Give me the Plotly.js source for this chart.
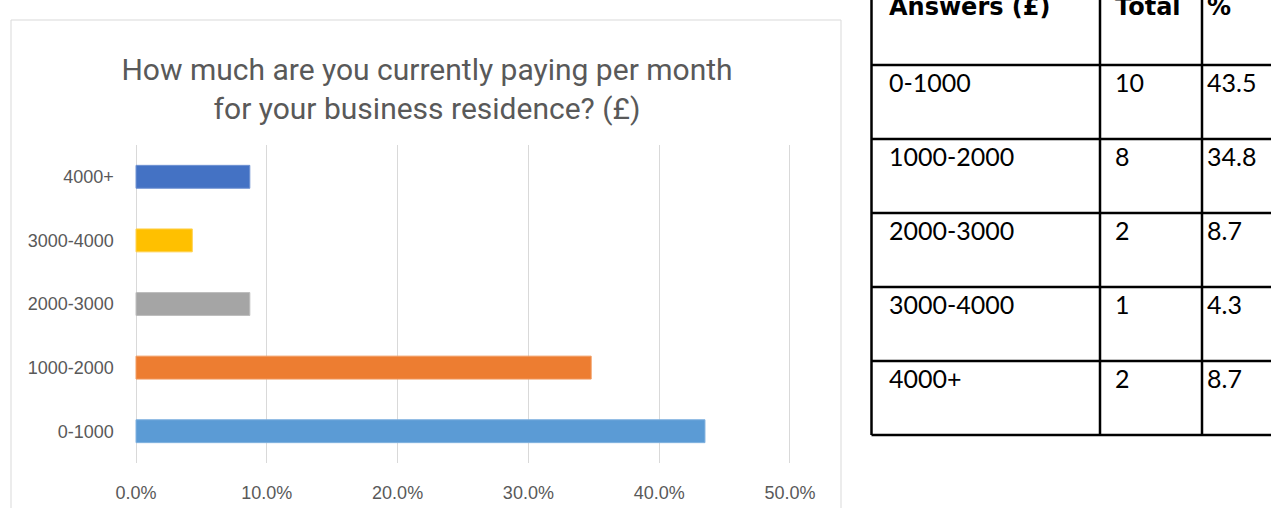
<!DOCTYPE html>
<html>
<head>
<meta charset="utf-8">
<script src="https://cdn.plot.ly/plotly-3.0.1.min.js"></script>
<style>html,body{margin:0;padding:0;background:#fff;}#chart{width:1271px;height:508px;}</style>
</head>
<body>
<div id="chart"></div>
<script>
// ---- data ----
const categories = ['0-1000', '1000-2000', '2000-3000', '3000-4000', '4000+'];
const percentValues = [43.5, 34.8, 8.7, 4.3, 8.7];
const totals = [10, 8, 2, 1, 2];
const tableHeader = ['Answers (£)', 'Total', '%'];
const xTickVals = [0, 10, 20, 30, 40, 50];
const xTickLabels = ['0.0%', '10.0%', '20.0%', '30.0%', '40.0%', '50.0%'];
const chartTitle = 'How much are you currently paying per month<br>for your business residence? (£)';

// ---- styles ----
const barColors = ['#5B9BD5', '#ED7D31', '#A5A5A5', '#FFC000', '#4472C4'];
const barEdgeColors = ['#7FB1DF', '#F19A5F', '#BDBDBD', '#FFD04D', '#6F92D2'];
const W = 1271, H = 508;
const px = v => v / W;          // horizontal pixel -> paper
const py = v => 1 - v / H;      // vertical pixel -> paper
const tickFont = {family: 'Liberation Sans, Arial, sans-serif', size: 18, color: '#595959'};
const tableFont = {family: 'Lato, Open Sans, sans-serif', size: 25, color: '#000'};
const headerFont = {family: 'DejaVu Sans, sans-serif', size: 24, color: '#000'};
const colLines = [871.5, 1100, 1202];       // table column boundaries (px)
const colText = [887, 1113, 1205];          // table text left edges (px)

const traces = [{
  type: 'bar',
  orientation: 'h',
  y: categories,
  x: percentValues,
  marker: {color: barColors, line: {width: 1, color: barEdgeColors}},
  width: 0.36,
  hoverinfo: 'skip',
  showlegend: false
}, {
  // carrier for the table's axis
  type: 'scatter', mode: 'none',
  x: [0], y: [0], xaxis: 'x2', yaxis: 'y2',
  hoverinfo: 'skip', showlegend: false
}];

const shapes = [];
const annotations = [];

// Excel chart frame
shapes.push({type: 'rect', xref: 'paper', yref: 'paper',
  x0: px(11), x1: px(841), y0: py(520), y1: py(20),
  line: {color: '#D9D9D9', width: 1}, fillcolor: 'rgba(0,0,0,0)', layer: 'below'});

// Table lines (rows in y2 units: 0 = bottom of header, each row = 1 unit)
const nRows = categories.length;
for (let r = 0; r <= nRows; r++) {
  shapes.push({type: 'line', xref: 'paper', yref: 'y2',
    x0: px(colLines[0]), x1: 1.05, y0: r, y1: r,
    line: {color: '#000', width: 2.5}});
}
colLines.forEach(c => {
  shapes.push({type: 'line', xref: 'paper', yref: 'y2',
    x0: px(c), x1: px(c), y0: -1.5, y1: nRows,
    line: {color: '#000', width: 2.5}});
});

// Table header
tableHeader.forEach((h, j) => {
  annotations.push({xref: 'paper', yref: 'y2', x: px(colText[j]), y: -0.78,
    xanchor: 'left', yanchor: 'middle', showarrow: false,
    text: '<b>' + h + '</b>', font: headerFont});
});
// Table body
categories.forEach((c, i) => {
  const row = [c, String(totals[i]), percentValues[i].toFixed(1)];
  row.forEach((t, j) => {
    annotations.push({xref: 'paper', yref: 'y2', x: px(colText[j]), y: i + 0.23,
      xanchor: 'left', yanchor: 'middle', showarrow: false,
      text: t, font: tableFont});
  });
});

const layout = {
  width: W, height: H,
  margin: {l: 0, r: 0, t: 0, b: 0},
  paper_bgcolor: '#fff', plot_bgcolor: 'rgba(0,0,0,0)',
  title: {text: chartTitle, x: px(427), xanchor: 'center', xref: 'paper',
    y: py(80), yanchor: 'middle', yref: 'paper',
    font: {family: 'Roboto, sans-serif', size: 30, color: '#595959'}},
  xaxis: {domain: [px(130.8), px(795.2)], range: [-0.4, 50.4], tickvals: xTickVals,
    ticktext: xTickLabels, showgrid: true, gridcolor: '#D9D9D9', gridwidth: 1,
    zeroline: false, showline: false, ticks: '', tickfont: tickFont,
    ticklabelstandoff: 17, fixedrange: true},
  yaxis: {domain: [py(463), py(145)], type: 'category', categoryorder: 'array',
    categoryarray: categories, showgrid: false, zeroline: false, showline: false,
    ticks: '', tickfont: tickFont, ticklabelstandoff: 16, fixedrange: true},
  xaxis2: {domain: [0, 1], range: [0, 1], visible: false, anchor: 'y2'},
  yaxis2: {domain: [0, 1], range: [nRows + 73 / 74, -65 / 74], visible: false, anchor: 'x2'},
  shapes: shapes,
  annotations: annotations
};

Plotly.newPlot('chart', traces, layout, {displayModeBar: false, staticPlot: true});
</script>
</body>
</html>
